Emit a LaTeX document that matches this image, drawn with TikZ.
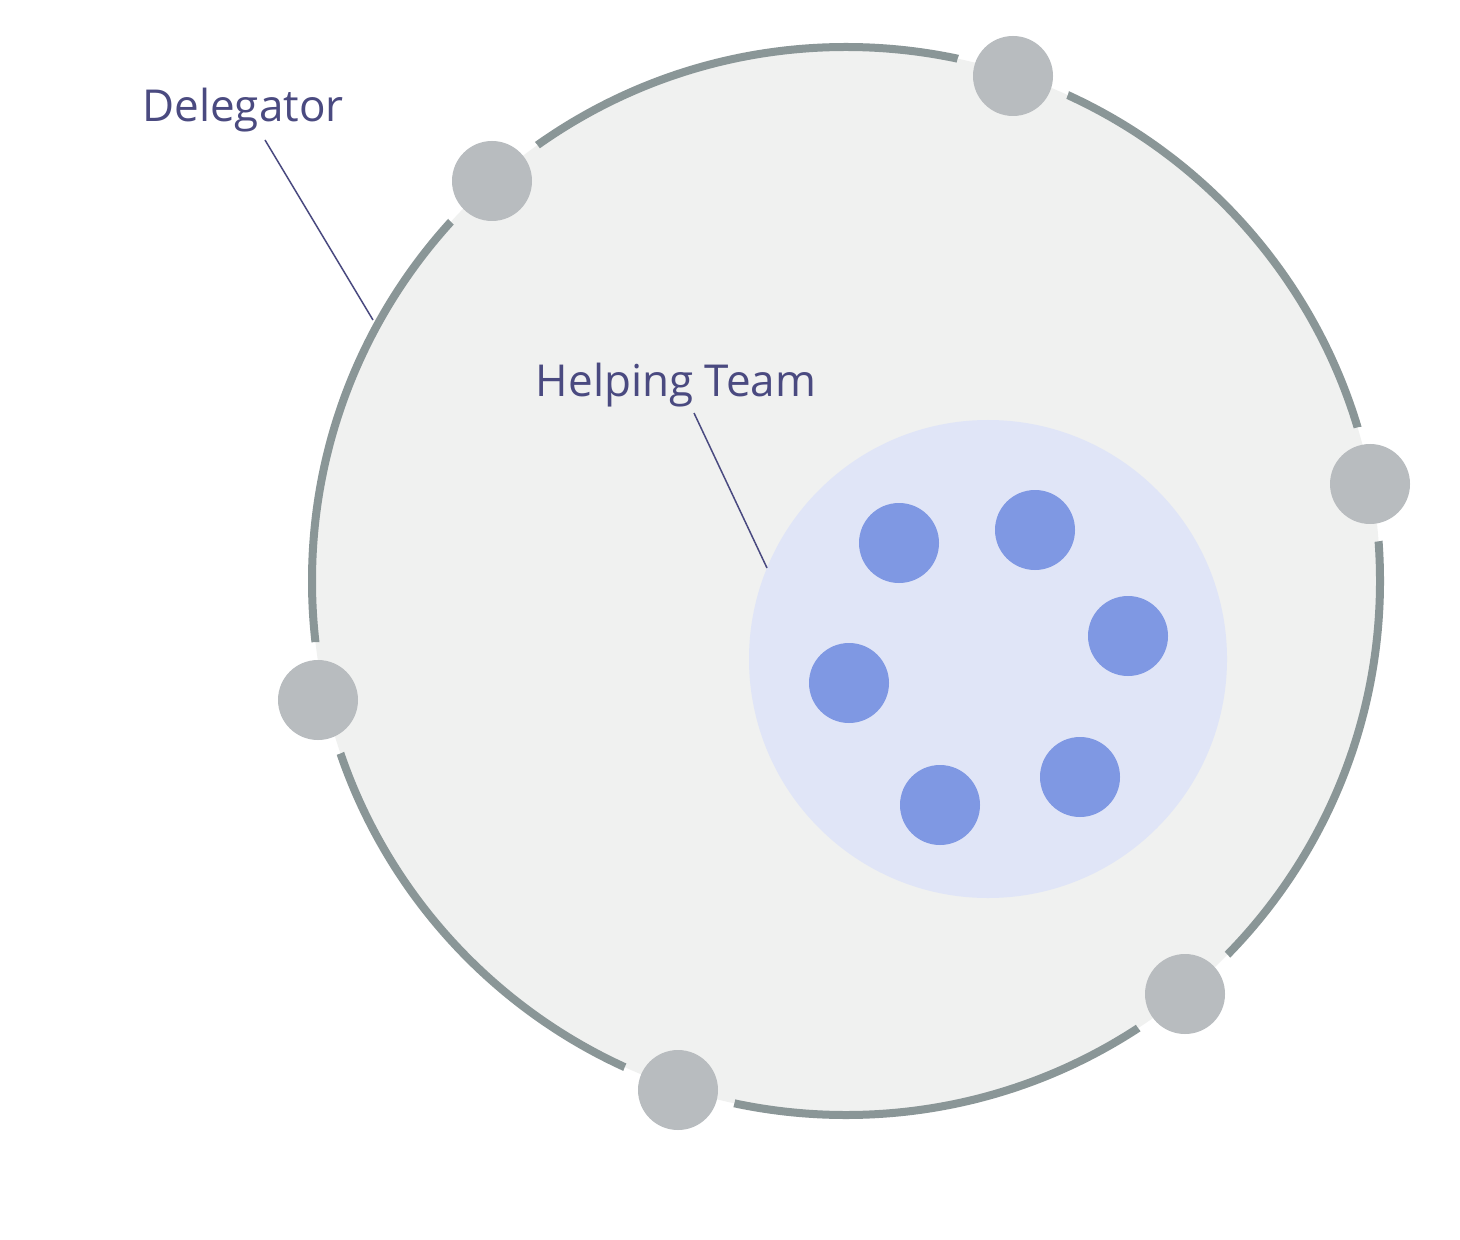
\documentclass[tikz,border=0pt]{standalone}
\usepackage{fontspec}
\setmainfont{Open Sans}
\definecolor{bigfill}{HTML}{F0F1F0}
\definecolor{bigline}{HTML}{8A9697}
\definecolor{grayball}{HTML}{B8BCBF}
\definecolor{teamfill}{HTML}{E0E5F7}
\definecolor{blueball}{HTML}{7F98E3}
\definecolor{labelcol}{HTML}{4A4A80}
\begin{document}
\begin{tikzpicture}[x=0.5pt,y=-0.5pt,
  member/.style={circle, inner sep=0pt, minimum size=40pt, fill=grayball},
  helper/.style={circle, inner sep=0pt, minimum size=40pt, fill=blueball},
  lbl/.style={text=labelcol, font=\fontsize{22}{26}\selectfont, anchor=base, inner sep=0pt},
  leader/.style={draw=labelcol, line width=0.75pt}]
\useasboundingbox (0,0) rectangle (1460,1240);
\fill[white] (0,0) rectangle (1460,1240);
% big circle
\coordinate (C) at (846,581);
\fill[bigfill] (C) circle (534);
\begin{scope}[even odd rule]
  \clip (-10,-10) rectangle (1470,1250)
    (1013,76) circle (58) (492,181) circle (58) (1370,484) circle (58)
    (318,700) circle (58) (1185,994) circle (58) (678,1090) circle (58);
  \draw[bigline, line width=4pt] (C) circle (534);
\end{scope}
% members on the rim
\node[member] (m1) at (1013,76) {};
\node[member] (m2) at (492,181) {};
\node[member] (m3) at (1370,484) {};
\node[member] (m4) at (318,700) {};
\node[member] (m5) at (1185,994) {};
\node[member] (m6) at (678,1090) {};
% helping team
\node[circle, inner sep=0pt, minimum size=239pt, fill=teamfill] (team) at (988,659) {};
\node[helper] (h1) at (899,543) {};
\node[helper] (h2) at (1035,530) {};
\node[helper] (h3) at (1128,636) {};
\node[helper] (h4) at (849,683) {};
\node[helper] (h5) at (1080,777) {};
\node[helper] (h6) at (940,805) {};
% labels
\node[lbl] (delegator) at (243,122) {Delegator};
\node[lbl] (helping) at (676,397) {Helping Team};
\coordinate (d1) at (265,140);
\coordinate (d2) at (373,320);
\coordinate (t1) at (694,413);
\coordinate (t2) at (767,568);
\draw[leader] (d1) -- (d2);
\draw[leader] (t1) -- (t2);
\end{tikzpicture}
\end{document}
